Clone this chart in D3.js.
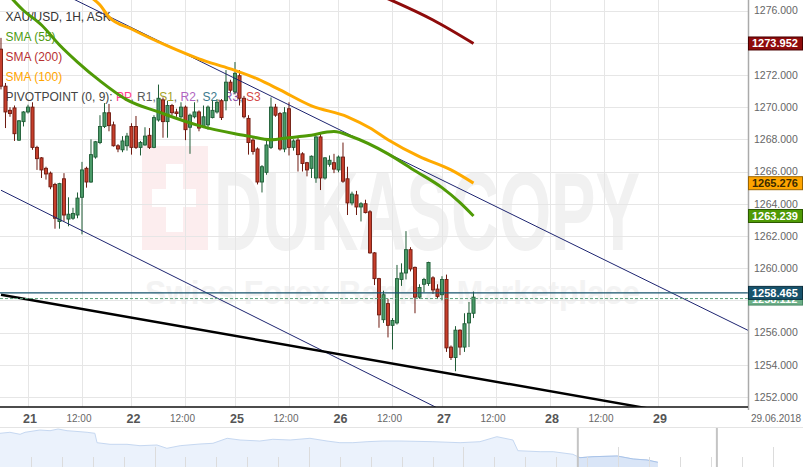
<!DOCTYPE html>
<html><head><meta charset="utf-8">
<script src="https://cdnjs.cloudflare.com/ajax/libs/d3/7.8.5/d3.min.js"></script>
<style>
html,body{margin:0;padding:0;background:#fff;}
svg{display:block;font-family:"Liberation Sans",Arial,sans-serif;}
</style></head><body>
<svg id="c" width="803" height="467"></svg>
<script>
// ---------- DATA ----------
const opens  = [1273.6,1271.3,1269.8,1269.95,1267.95,1269.1,1269.7,1270.0,1267.5,1266.85,1266.2,1265.9,1265.2,1262.9,1265.55,1263.05,1263.1,1263.3,1264.4,1266.2,1265.35,1266.9,1267.8,1268.8,1269.65,1268.9,1267.6,1267.35,1267.6,1268.8,1268.8,1267.5,1267.65,1268.25,1267.5,1269.2,1270.45,1269.1,1270.1,1269.7,1269.4,1270.0,1268.75,1269.4,1269.7,1268.8,1268.9,1269.35,1269.7,1270.4,1270.4,1271.55,1270.95,1271.95,1270.55,1269.3,1267.95,1267.4,1265.35,1265.95,1267.5,1270.0,1269.6,1267.4,1269.9,1267.5,1267.95,1267.1,1266.55,1266.2,1265.6,1268.15,1265.6,1266.45,1266.55,1266.1,1266.9,1265.55,1264.05,1264.55,1263.8,1264.0,1263.5,1260.95,1259.35,1256.8,1257.8,1256.45,1256.6,1259.3,1259.7,1261.15,1260.05,1258.2,1259.0,1259.05,1259.4,1258.7,1258.35,1259.3,1255.1,1254.45,1256.15,1255.1,1256.6,1257.2];
const highs  = [1274.3,1271.5,1270.0,1270.1,1269.2,1269.75,1270.15,1270.3,1267.6,1266.9,1266.3,1266.0,1265.3,1265.3,1265.9,1264.4,1263.75,1264.7,1266.6,1266.3,1268.0,1267.9,1269.5,1270.25,1270.2,1269.1,1267.7,1268.2,1268.4,1269.0,1269.45,1267.9,1268.75,1268.7,1269.5,1271.4,1270.6,1270.4,1270.2,1269.9,1270.3,1270.1,1269.6,1270.3,1269.8,1270.1,1270.1,1270.4,1270.5,1270.5,1272.3,1271.7,1272.8,1272.3,1270.7,1269.5,1268.1,1267.5,1266.4,1267.9,1270.6,1270.2,1269.7,1270.0,1270.3,1268.0,1268.1,1267.2,1266.6,1267.0,1268.2,1268.4,1266.9,1267.0,1267.1,1267.0,1267.8,1266.3,1264.75,1264.8,1264.1,1264.25,1263.6,1261.0,1259.4,1258.6,1258.1,1256.9,1260.2,1260.3,1262.3,1261.3,1260.1,1259.0,1259.4,1260.4,1259.5,1259.0,1259.5,1259.6,1255.2,1256.4,1256.2,1257.2,1257.9,1258.55];
const lows   = [1271.1,1268.7,1269.4,1267.9,1267.9,1268.8,1269.6,1267.35,1266.1,1265.6,1265.5,1264.9,1262.45,1262.45,1262.9,1262.6,1263.0,1263.1,1262.1,1265.0,1265.3,1266.8,1267.7,1268.7,1268.5,1267.55,1267.2,1267.2,1267.3,1267.05,1267.4,1267.0,1267.6,1267.4,1267.45,1269.1,1268.1,1268.1,1269.5,1269.4,1269.3,1267.95,1267.1,1269.3,1268.5,1268.7,1268.6,1269.3,1269.6,1269.2,1269.8,1270.9,1270.8,1270.1,1269.3,1267.05,1267.05,1265.2,1264.7,1265.8,1267.4,1269.4,1267.3,1267.2,1267.0,1267.3,1266.0,1266.0,1265.7,1265.6,1265.3,1264.85,1265.5,1266.3,1265.9,1265.95,1265.3,1263.3,1263.9,1263.3,1262.9,1263.4,1260.9,1258.95,1256.3,1256.6,1255.7,1254.95,1256.5,1258.9,1259.3,1259.8,1257.2,1258.1,1258.5,1258.9,1258.4,1258.1,1258.0,1254.8,1254.3,1253.6,1254.6,1254.8,1255.1,1256.9];
const closes = [1271.3,1269.7,1269.6,1268.35,1269.15,1269.7,1270.0,1267.5,1266.8,1266.1,1265.85,1265.05,1263.1,1265.25,1263.3,1263.35,1263.4,1264.35,1266.1,1265.35,1267.05,1267.85,1268.8,1269.65,1268.85,1267.6,1267.4,1267.9,1268.2,1267.5,1267.5,1267.8,1268.2,1267.5,1269.35,1270.55,1269.1,1270.1,1269.65,1269.6,1270.0,1268.6,1269.5,1269.7,1268.7,1269.4,1270.0,1269.8,1270.3,1269.35,1271.55,1271.05,1272.1,1270.55,1269.4,1267.8,1267.25,1265.35,1266.3,1267.65,1270.0,1269.5,1267.4,1269.65,1267.5,1267.9,1267.05,1266.5,1266.1,1266.95,1268.15,1265.6,1266.85,1266.7,1266.15,1266.9,1265.4,1264.05,1264.6,1263.8,1264.0,1263.45,1260.95,1259.35,1257.1,1258.35,1256.45,1256.75,1259.35,1259.7,1261.15,1259.95,1258.2,1258.8,1259.3,1260.35,1258.65,1258.25,1259.3,1255.05,1254.45,1256.15,1255.1,1256.55,1257.2,1258.2];

const sma55Idx  = [0,5,9,13,17,22,28,35,44,52,55,60,64,68,74,78,86,92,98,102,105];
const sma55     = [1277.5,1276.0,1275.1,1273.86,1272.8,1271.63,1270.45,1269.7,1268.85,1268.35,1268.2,1267.97,1268.1,1268.22,1268.48,1268.16,1267.1,1266.05,1265.0,1264.07,1263.24];
const sma100Idx = [19,22,24,29,37,44,51,57,62,69,77,82,86,93,100,105];
const sma100    = [1277.0,1276.34,1275.6,1274.85,1273.8,1273.0,1272.37,1271.75,1271.07,1270.08,1269.4,1268.7,1267.97,1266.92,1266.1,1265.28];
const sma200Idx = [85,96,105];
const sma200    = [1276.85,1275.41,1273.95];

const channelUpper = [[0,1278.92],[166,1256.14]];
const channelLower = [[0,1264.84],[110,1249.5]];
const supportLine  = [[0,1258.35],[166,1250.2]];

const askPrice = 1258.465, bidPrice = 1258.112;
const sma55Last = 1263.239, sma100Last = 1265.276, sma200Last = 1273.952;

const yTicks = [1252,1254,1256,1258,1260,1262,1264,1266,1268,1270,1272,1274,1276];
const dayTickIdx    = [6,29,52,75,98,122,146];
const dayTickLabels = ["21","22","25","26","27","28","29"];
const noonTickIdx   = [18,41,64,87,110,134];
const noonTickLabel = "12:00";
const dateLabel = "29.06.2018";

const navDays   = [0,0.32,0.65,0.81,1.29,1.62,1.88,2.17,2.59,2.82,3.07,3.14,3.56,4.11,4.53,5.08,5.40,5.83,6.47,6.89,7.35,7.77,8.41,8.83,9.39,10.03,10.58,11.0,11.42,11.88,12.39,12.94,14.01,14.89,15.53,16.08,16.60,16.76,17.48,17.90,18.54,18.77,19.19,19.97,20.49,20.94,21.29];
const navValues = [1307.4,1309.4,1305.4,1309.4,1314,1312.6,1316,1312.6,1310.6,1309.4,1307.4,1288.6,1285.4,1285.4,1282.6,1284,1277.4,1282.6,1286,1287.4,1297.4,1294,1292,1295.4,1294,1297.4,1292,1288.6,1288.6,1290.6,1292,1292,1290.6,1288.6,1290.6,1300.6,1294,1272.6,1270.6,1270.6,1265.4,1258.6,1260.6,1262,1256,1254,1249.4];
const navSelection = [18.7,23.2];

const legendTitle = "XAU/USD, 1H, ASK";
const legendSMA = ["SMA (55)","SMA (200)","SMA (100)"];
const pivotTitle = "PIVOTPOINT (0, 9): ";
const pivotNames = ["PP","R1","S1","R2","S2","R3","S3"];

// ---------- DRAW ----------
const svg = d3.select("#c");
const PR = 748, PB = 407;
const x = d3.scaleLinear().domain([-0.222,166]).range([0,PR]);
const y = d3.scaleLinear().domain([1252,1276]).range([397,10.5]);

svg.append("rect").attr("width",803).attr("height",467).attr("fill","#fff");
const defs = svg.append("defs");
defs.append("clipPath").attr("id","plot").append("rect").attr("x",0).attr("y",0).attr("width",PR).attr("height",PB);

// watermark
const wm = svg.append("g");
wm.append("rect").attr("x",142).attr("y",146).attr("width",66).attr("height",104).attr("fill","#fcedee");
wm.append("rect").attr("x",166).attr("y",164).attr("width",17).attr("height",68).attr("fill","#fff");
wm.append("rect").attr("x",152).attr("y",189).attr("width",44).attr("height",18).attr("fill","#fff");
wm.append("text").attr("x",214).attr("y",250).attr("font-size",112).attr("font-weight","bold")
  .attr("textLength",426).attr("lengthAdjust","spacingAndGlyphs").attr("fill","#f1f1f1").text("DUKASCOPY");
wm.append("text").attr("x",145).attr("y",304).attr("font-size",34).attr("font-weight","bold")
  .attr("textLength",495).attr("lengthAdjust","spacingAndGlyphs").attr("fill","#f3f3f3").text("Swiss Forex Bank & Marketplace");

// grid
const grid = svg.append("g").attr("stroke","#e6e6e6").attr("stroke-width",1);
yTicks.forEach(v=>grid.append("line").attr("x1",0).attr("x2",PR).attr("y1",Math.round(y(v))+0.5).attr("y2",Math.round(y(v))+0.5));
dayTickIdx.concat(noonTickIdx).forEach(i=>grid.append("line").attr("x1",Math.round(x(i))+0.5).attr("x2",Math.round(x(i))+0.5).attr("y1",0).attr("y2",PB));

// legend
const lg = svg.append("g").attr("font-size",12);
lg.append("text").attr("x",5.5).attr("y",20.5).attr("fill","#333").text(legendTitle);
const smaCols = ["#4f9a12","#b83232","#ffa500"];
legendSMA.forEach((t,i)=>lg.append("text").attr("x",5.5).attr("y",40.5+20*i).attr("fill",smaCols[i]).text(t));
const pcol = ["#ff3d8b","#5a5a5a","#a4a228","#b064c0","#3c7a8c","#8a4fa6","#d44a48"];
const pt = lg.append("text").attr("x",5.5).attr("y",100.5).attr("fill","#444");
pt.append("tspan").text(pivotTitle);
pivotNames.forEach((n,i)=>{
  pt.append("tspan").attr("fill",pcol[i]).text(n);
  if(i<pivotNames.length-1) pt.append("tspan").attr("fill","#666").text(", ");
});

const plot = svg.append("g").attr("clip-path","url(#plot)");

// candles
const data = opens.map((o,i)=>({i,o,h:highs[i],l:lows[i],c:closes[i]}));
const bw = 3.1;
const cg = plot.append("g");
cg.selectAll("line").data(data).join("line")
  .attr("x1",d=>x(d.i)).attr("x2",d=>x(d.i)).attr("y1",d=>y(d.h)).attr("y2",d=>y(d.l))
  .attr("stroke",d=>d.c>=d.o?"#1f5c36":"#6e1a10").attr("stroke-width",1);
cg.selectAll("rect").data(data).join("rect")
  .attr("x",d=>x(d.i)-bw/2).attr("width",bw)
  .attr("y",d=>y(Math.max(d.o,d.c))).attr("height",d=>Math.max(1,Math.abs(y(d.o)-y(d.c))))
  .attr("fill",d=>d.c>=d.o?"#4a9a68":"#c63e2b")
  .attr("stroke",d=>d.c>=d.o?"#1f5c36":"#6e1a10").attr("stroke-width",0.9);

// trend lines
const tl = d3.line().x(d=>x(d[0])).y(d=>y(d[1]));
plot.append("path").attr("d",tl(channelUpper)).attr("fill","none").attr("stroke","#1d2470").attr("stroke-width",1);
plot.append("path").attr("d",tl(channelLower)).attr("fill","none").attr("stroke","#1d2470").attr("stroke-width",1);
plot.append("path").attr("d",tl(supportLine)).attr("fill","none").attr("stroke","#000").attr("stroke-width",2.4);

// SMAs
const sl = d3.line().curve(d3.curveMonotoneX).x(d=>x(d[0])).y(d=>y(d[1]));
plot.append("path").attr("d",sl(sma100Idx.map((v,k)=>[v,sma100[k]]))).attr("fill","none").attr("stroke","#ffaa00").attr("stroke-width",3);
plot.append("path").attr("d",sl(sma55Idx.map((v,k)=>[v,sma55[k]]))).attr("fill","none").attr("stroke","#4f9a06").attr("stroke-width",3);
plot.append("path").attr("d",sl(sma200Idx.map((v,k)=>[v,sma200[k]]))).attr("fill","none").attr("stroke","#8e0b0b").attr("stroke-width",3);

// price lines
plot.append("line").attr("x1",0).attr("x2",PR).attr("y1",y(bidPrice)).attr("y2",y(bidPrice))
  .attr("stroke","#5aa27a").attr("stroke-width",1).attr("stroke-dasharray","3,2");
plot.append("line").attr("x1",0).attr("x2",PR).attr("y1",y(askPrice)).attr("y2",y(askPrice))
  .attr("stroke","#17536c").attr("stroke-width",1.3);

// axes lines
svg.append("line").attr("x1",PR+0.5).attr("x2",PR+0.5).attr("y1",0).attr("y2",PB+3).attr("stroke","#aaa").attr("stroke-width",1.5);
svg.append("line").attr("x1",0).attr("x2",PR).attr("y1",PB).attr("y2",PB).attr("stroke","#111").attr("stroke-width",1.3);

// value boxes (data)
const boxes = [
  {v:sma200Last, fill:"#8e0b0b", stroke:"#4a0000", col:"#fff"},
  {v:sma100Last, fill:"#ffa500", stroke:"#9a6400", col:"#3a2a00"},
  {v:sma55Last,  fill:"#4f9a06", stroke:"#2c5a00", col:"#fff"},
  {v:bidPrice,   fill:"#6caf88", stroke:"#4a8a66", col:"#fff"},
  {v:askPrice,   fill:"#17536c", stroke:"#0b3040", col:"#fff"}
];

// y labels (labels fully hidden behind a value box are not drawn)
const fmt = d3.format(".3f");
const ya = svg.append("g").attr("font-size",10.5).attr("fill","#666");
yTicks.filter(v=>!boxes.some(b=>Math.abs(y(b.v)-y(v))<4))
  .forEach(v=>ya.append("text").attr("x",754).attr("y",y(v)).attr("dy","0.36em").text(fmt(v)));

boxes.forEach(b=>{
  const g = svg.append("g");
  g.append("rect").attr("x",748.5).attr("y",y(b.v)-6.5).attr("width",54).attr("height",13)
    .attr("fill",b.fill).attr("stroke",b.stroke).attr("stroke-width",1);
  g.append("text").attr("x",752).attr("y",y(b.v)).attr("dy","0.36em").attr("font-size",11)
    .attr("font-weight","bold").attr("fill",b.col).text(fmt(b.v));
});

// x labels
const xa = svg.append("g").attr("text-anchor","middle");
dayTickIdx.forEach((i,k)=>xa.append("text").attr("x",x(i)+2).attr("y",422.5).attr("font-size",12.5)
  .attr("font-weight","bold").attr("fill","#555").text(dayTickLabels[k]));
noonTickIdx.forEach(i=>xa.append("text").attr("x",x(i)-3).attr("y",421.5).attr("font-size",10)
  .attr("fill","#666").text(noonTickLabel));
svg.append("text").attr("x",751).attr("y",421.5).attr("font-size",10).attr("fill","#666").text(dateLabel);

// navigator
svg.append("line").attr("x1",0).attr("x2",803).attr("y1",427.5).attr("y2",427.5).attr("stroke","#e4e4e4");
const nx = d3.scaleLinear().domain([0,26]).range([0,803.4]);
const ny = d3.scaleLinear().domain([1240,1318]).range([467,428]);
const navPts = navDays.map((d,k)=>[d,navValues[k]]);
const area = d3.area().x(d=>nx(d[0])).y0(467).y1(d=>ny(d[1]));
const nline = d3.line().x(d=>nx(d[0])).y(d=>ny(d[1]));
svg.append("path").attr("d",area(navPts)).attr("fill","#ebf2fc");
svg.append("path").attr("d",nline(navPts)).attr("fill","none").attr("stroke","#c6d8f1").attr("stroke-width",1);
defs.append("clipPath").attr("id","sel").append("rect").attr("x",nx(navSelection[0])).attr("y",428)
  .attr("width",nx(navSelection[1])-nx(navSelection[0])).attr("height",40);
const sg = svg.append("g").attr("clip-path","url(#sel)");
sg.append("path").attr("d",area(navPts)).attr("fill","#d9e5f7");
sg.append("path").attr("d",nline(navPts)).attr("fill","none").attr("stroke","#a9c3e8").attr("stroke-width",1);
const nt = svg.append("g").attr("stroke","#dcdcdc").attr("stroke-width",1);
d3.range(1,26).forEach(k=>nt.append("line").attr("x1",Math.round(nx(k))+0.5).attr("x2",Math.round(nx(k))+0.5)
  .attr("y1",k%5===0?447:457).attr("y2",467));
navSelection.forEach(s=>svg.append("line").attr("x1",nx(s)).attr("x2",nx(s)).attr("y1",428).attr("y2",467)
  .attr("stroke","#c4c4c4").attr("stroke-width",2));
</script>
</body></html>
